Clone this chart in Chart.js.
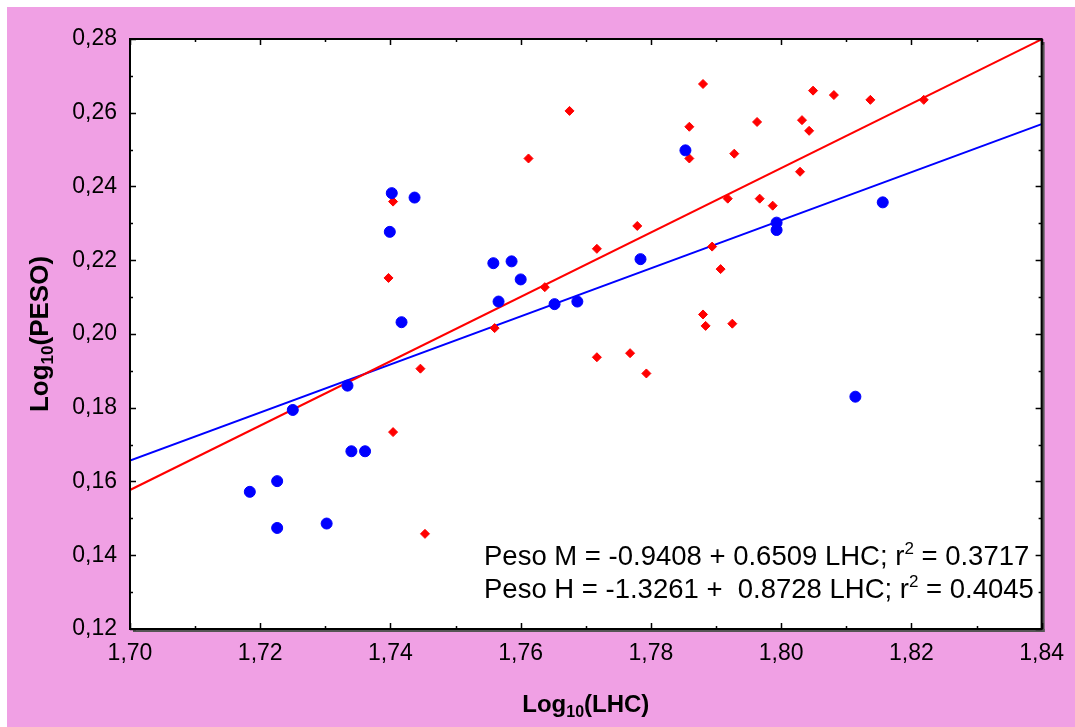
<!DOCTYPE html>
<html>
<head>
<meta charset="utf-8">
<script src="https://cdn.jsdelivr.net/npm/chart.js@4.4.0/dist/chart.umd.min.js"></script>
<style>
  html, body { margin: 0; padding: 0; background: #fff; }
  #wrap { position: relative; width: 1075px; height: 727px; }
</style>
</head>
<body>
<div id="wrap"><canvas id="myChart" width="1075" height="727"></canvas></div>
<script>
// DADOS - Peso M (azul)
const mX = [1.7184, 1.7226, 1.7226, 1.7302, 1.7340, 1.7361, 1.7250, 1.7334, 1.7402, 1.7437, 1.7399, 1.7417,
            1.7558, 1.7586, 1.7600, 1.7566, 1.7652, 1.7687, 1.7784, 1.7853, 1.7993, 1.7993, 1.8156, 1.8114]
const mY = [0.1572, 0.1601, 0.1474, 0.1486, 0.1682, 0.1682, 0.1794, 0.1860, 0.2382, 0.2370, 0.2277, 0.2032,
            0.2192, 0.2197, 0.2148, 0.2088, 0.2081, 0.2088, 0.2203, 0.2498, 0.2302, 0.2282, 0.2357, 0.1830]

// DADOS - Peso H (vermelho)
const hX = [1.7404, 1.7397, 1.7446, 1.7404, 1.7453, 1.7560, 1.7637, 1.7612, 1.7675, 1.7717, 1.7717, 1.7768,
            1.7779, 1.7793, 1.7859, 1.7859, 1.7880, 1.7880, 1.7884, 1.7894, 1.7907, 1.7925, 1.7928, 1.7918,
            1.7963, 1.7967, 1.7987, 1.8029, 1.8032, 1.8043, 1.8049, 1.8081, 1.8137, 1.8219]
const hY = [0.2359, 0.2152, 0.1906, 0.1734, 0.1458, 0.2016, 0.2127, 0.2476, 0.2605, 0.2231, 0.1937, 0.1948,
            0.2293, 0.1893, 0.2562, 0.2476, 0.2678, 0.2053, 0.2022, 0.2237, 0.2176, 0.2028, 0.2489, 0.2367,
            0.2575, 0.2367, 0.2348, 0.2440, 0.2580, 0.2551, 0.2660, 0.2648, 0.2635, 0.2635]

// RETAS DE REGRESSAO (extremos do eixo)
const fitX = [1.70, 1.84]
const fitM = [0.1657, 0.2569]
const fitH = [0.1577, 0.2799]

// EIXOS
const xRange = [1.70, 1.84]
const yRange = [0.12, 0.28]
const tickStep = 0.02

// TEXTOS
const xTitle = ['Log', '10', '(LHC)']
const yTitle = ['Log', '10', '(PESO)']
const eqLines = [
    ['Peso M = -0.9408 + 0.6509 LHC; r', '2', ' = 0.3717'],
    ['Peso H = -1.3261 +  0.8728 LHC; r', '2', ' = 0.4045']
]

const FONT = "'Liberation Sans', Arial, sans-serif"
const PINK = 'rgb(240,160,228)'

function pts(xs, ys) {
    return xs.map((x, i) => ({ x: x, y: ys[i] }))
}

const fmt = v => v.toFixed(2).replace('.', ',')

// desenha "Log" + subscrito + resto
function subText(ctx, parts, size, subSize) {
    ctx.font = 'bold ' + size + 'px ' + FONT
    const w0 = ctx.measureText(parts[0]).width
    const w2 = ctx.measureText(parts[2]).width
    ctx.font = 'bold ' + subSize + 'px ' + FONT
    const w1 = ctx.measureText(parts[1]).width
    const total = w0 + w1 + w2
    let x = -total / 2
    ctx.textAlign = 'left'
    ctx.textBaseline = 'alphabetic'
    ctx.font = 'bold ' + size + 'px ' + FONT
    ctx.fillText(parts[0], x, 0)
    x += w0
    ctx.font = 'bold ' + subSize + 'px ' + FONT
    ctx.fillText(parts[1], x, size * 0.2)
    x += w1
    ctx.font = 'bold ' + size + 'px ' + FONT
    ctx.fillText(parts[2], x, 0)
}

const decor = {
    id: 'decor',
    beforeDraw(chart) {
        const ctx = chart.ctx
        const a = chart.chartArea
        ctx.save()
        ctx.fillStyle = '#fff'
        ctx.fillRect(0, 0, chart.width, chart.height)
        ctx.fillStyle = PINK
        ctx.fillRect(7, 7, chart.width - 7, chart.height - 7)
        // sombra
        ctx.fillStyle = '#555'
        ctx.fillRect(a.left + 3, a.bottom, a.right - a.left, 3)
        ctx.fillRect(a.right, a.top + 3, 3, a.bottom - a.top)
        ctx.fillStyle = '#fff'
        ctx.fillRect(a.left, a.top, a.right - a.left, a.bottom - a.top)
        ctx.restore()
    },
    afterDraw(chart) {
        const ctx = chart.ctx
        const a = chart.chartArea
        const xs = chart.scales.x
        const ys = chart.scales.y
        ctx.save()
        ctx.strokeStyle = '#000'
        ctx.lineWidth = 1.5
        ctx.beginPath()
        // marcas internas (maiores e menores)
        for (let v = xRange[0]; v <= xRange[1] + 1e-9; v += tickStep / 2) {
            const major = Math.abs(Math.round(v / tickStep) * tickStep - v) < 1e-6
            const len = major ? 6 : 3
            const px = Math.round(xs.getPixelForValue(v)) + 0.5
            ctx.moveTo(px, a.bottom); ctx.lineTo(px, a.bottom - len)
            ctx.moveTo(px, a.top); ctx.lineTo(px, a.top + len)
        }
        for (let v = yRange[0]; v <= yRange[1] + 1e-9; v += tickStep / 2) {
            const major = Math.abs(Math.round(v / tickStep) * tickStep - v) < 1e-6
            const len = major ? 6 : 3
            const py = Math.round(ys.getPixelForValue(v)) + 0.5
            ctx.moveTo(a.left, py); ctx.lineTo(a.left + len, py)
            ctx.moveTo(a.right, py); ctx.lineTo(a.right - len, py)
        }
        ctx.stroke()
        // moldura
        ctx.lineWidth = 2
        ctx.strokeRect(a.left, a.top, a.right - a.left, a.bottom - a.top)

        // titulos dos eixos
        ctx.fillStyle = '#000'
        ctx.save()
        ctx.translate((a.left + a.right) / 2, 712)
        subText(ctx, xTitle, 24, 16)
        ctx.restore()
        ctx.save()
        ctx.translate(48, (a.top + a.bottom) / 2)
        ctx.rotate(-Math.PI / 2)
        subText(ctx, yTitle, 26, 17)
        ctx.restore()

        // equacoes
        ctx.textAlign = 'left'
        ctx.textBaseline = 'alphabetic'
        eqLines.forEach((ln, i) => {
            let x = 484
            const y = 565 + i * 33
            ctx.font = '27.5px ' + FONT
            ctx.fillText(ln[0], x, y)
            x += ctx.measureText(ln[0]).width
            ctx.font = '17px ' + FONT
            ctx.fillText(ln[1], x, y - 11)
            x += ctx.measureText(ln[1]).width
            ctx.font = '27.5px ' + FONT
            ctx.fillText(ln[2], x, y)
        })
        ctx.restore()
    }
}

var ctx = document.getElementById('myChart').getContext('2d')
var myChart = new Chart(ctx, {
    type: 'scatter',
    data: {
        datasets: [{
            label: 'Peso M',
            data: pts(mX, mY),
            pointStyle: 'circle',
            pointRadius: 5.5,
            borderWidth: 1,
            backgroundColor: '#0000FF',
            borderColor: '#0000FF',
            order: 1
        }, {
            label: 'Peso H',
            data: pts(hX, hY),
            pointStyle: 'rectRot',
            pointRadius: 4.5,
            borderWidth: 1,
            backgroundColor: '#FF0000',
            borderColor: '#FF0000',
            order: 2
        }, {
            label: 'Reta M',
            data: pts(fitX, fitM),
            showLine: true,
            pointRadius: 0,
            borderColor: '#0000FF',
            borderWidth: 2,
            order: 4
        }, {
            label: 'Reta H',
            data: pts(fitX, fitH),
            showLine: true,
            pointRadius: 0,
            borderColor: '#FF0000',
            borderWidth: 2,
            order: 3
        }]
    },
    options: {
        responsive: false,
        animation: false,
        layout: { padding: { left: 0, top: 39, right: 31, bottom: 0 } },
        plugins: {
            legend: { display: false },
            tooltip: { enabled: false }
        },
        scales: {
            x: {
                type: 'linear',
                min: xRange[0],
                max: xRange[1],
                afterFit: s => { s.height = 98 },
                grid: { display: false, drawTicks: false },
                border: { display: false },
                ticks: {
                    stepSize: tickStep,
                    padding: 11,
                    color: '#000',
                    maxRotation: 0,
                    font: { family: FONT, size: 23 },
                    callback: v => fmt(v)
                }
            },
            y: {
                type: 'linear',
                min: yRange[0],
                max: yRange[1],
                afterFit: s => { s.width = 130 },
                grid: { display: false, drawTicks: false },
                border: { display: false },
                ticks: {
                    stepSize: tickStep,
                    padding: 13,
                    color: '#000',
                    font: { family: FONT, size: 23 },
                    callback: v => fmt(v)
                }
            }
        }
    },
    plugins: [decor]
})
</script>
</body>
</html>
